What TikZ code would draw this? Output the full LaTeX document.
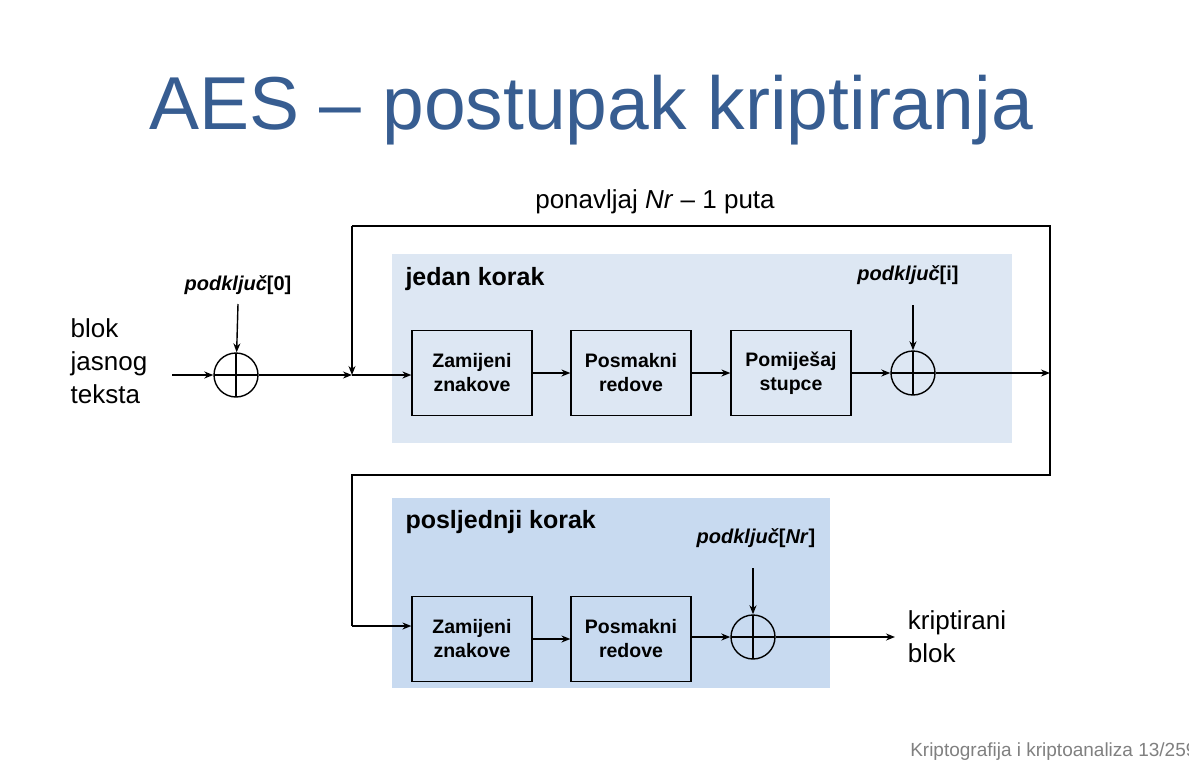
\documentclass[tikz,border=0pt]{standalone}
\usepackage{fontspec}
\setmainfont{Liberation Sans}
\usetikzlibrary{arrows.meta}
\definecolor{titleblue}{RGB}{55,93,145}
\definecolor{panelA}{RGB}{221,231,243}
\definecolor{panelB}{RGB}{200,218,240}
\begin{document}
\begin{tikzpicture}[x=1pt,y=-1pt,
  box/.style={draw,line width=1.2pt,minimum width=120pt,minimum height=85pt,align=center,font=\fontsize{19.5}{24}\selectfont\bfseries},
  xor/.style={draw,circle,line width=1.4pt,minimum size=44pt,inner sep=0pt,
     path picture={\draw[line width=1.2pt] (path picture bounding box.north)--(path picture bounding box.south)
       (path picture bounding box.west)--(path picture bounding box.east);}},
  ln/.style={line width=1.4pt},
  arr/.style={ln,-{Stealth[length=9pt,width=7pt]}},
  key/.style={font=\fontsize{20}{22}\selectfont\bfseries},
  lab/.style={font=\fontsize{26}{33}\selectfont,align=left}]
\useasboundingbox (0,0) rectangle (1189,779);
\fill[white] (0,0) rectangle (1189,779);
\node[text=titleblue,font=\fontsize{75}{85}\selectfont] (title) at (591,110) {AES – postupak kriptiranja};
\fill[panelA] (392,254) rectangle (1012,443);
\fill[panelB] (392,498) rectangle (830,688);
\node[anchor=west,font=\fontsize{25}{28}\selectfont\bfseries] (p1) at (402,279) {jedan korak};
\node[anchor=west,font=\fontsize{25}{28}\selectfont\bfseries] (p2) at (402,522) {posljednji korak};
\node[font=\fontsize{26}{30}\selectfont] (rep) at (655,202) {ponavljaj \textit{Nr} – 1 puta};
\node[box] (z1) at (472,373) {Zamijeni\\znakove};
\node[box] (s1) at (631,373) {Posmakni\\redove};
\node[box] (m1) at (791,373) {Pomiješaj\\stupce};
\node[box] (z2) at (472,639) {Zamijeni\\znakove};
\node[box] (s2) at (631,639) {Posmakni\\redove};
\node[xor] (x0) at (236,375) {};
\node[xor] (x1) at (913,373) {};
\node[xor] (x2) at (753,637) {};
\node[lab] (in) at (109,361) {blok\\jasnog\\teksta};
\node[lab] (out) at (957,637) {kriptirani\\blok};
\node[key] (k0) at (238,285) {\textit{podključ}[0]};
\node[key] (k1) at (908,275) {\textit{podključ}[i]};
\node[key] (k2) at (756,538) {\textit{podključ}[\textit{Nr}]};
\coordinate (in0) at (172,375);
\coordinate (j) at (352,375);
\coordinate (r) at (1050,373);
\coordinate (ka) at (238,304);
\coordinate (kb) at (913,305);
\coordinate (kc) at (753,568);
\coordinate (o) at (895,637);
\draw[arr] (in0) -- (x0);
\draw[arr] (x0) -- (j);
\draw[arr] (j) -- (z1.west |- j);
\draw[arr] (ka) -- (x0);
\draw[arr] (kb) -- (x1);
\draw[arr] (kc) -- (x2);
\draw[arr] (z1) -- (s1);
\draw[arr] (s1) -- (m1);
\draw[arr] (m1) -- (x1);
\draw[arr] (x1) -- (r);
\draw[arr] (j) ++(0,-149) -- (j);
\draw[ln] (352,226) -- (1050,226) -- (r);
\draw[ln] (r) -- (1050,475) -- (352,475) -- (352,626);
\draw[arr] (352,626) -- (z2.west |- 0,626);
\draw[arr] (z2) -- (s2);
\draw[arr] (s2.east |- x2) -- (x2);
\draw[arr] (x2) -- (o);
\node[anchor=east,text=gray,font=\fontsize{19}{22}\selectfont] (foot) at (1200,752) {Kriptografija i kriptoanaliza 13/259};
\end{tikzpicture}
\end{document}
